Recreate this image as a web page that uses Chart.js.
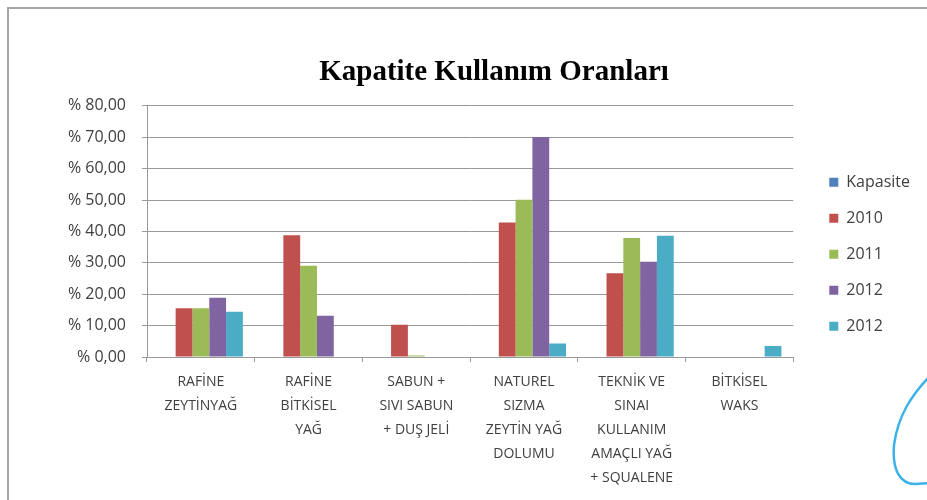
<!DOCTYPE html>
<html>
<head>
<meta charset="utf-8">
<script src="https://cdn.jsdelivr.net/npm/chart.js@4.4.0/dist/chart.umd.min.js"></script>
<style>
  html, body { margin: 0; padding: 0; background: #fff; overflow: hidden; }
  #frame { position: absolute; left: 7px; top: 7px; width: 1000px; height: 600px; border: 2px solid #a6a6a6; }
  #wrap { position: absolute; left: 0; top: 0; width: 988px; height: 500px; }
  #ink { position: absolute; left: 0; top: 0; }
</style>
</head>
<body>
<div id="frame"></div>
<div id="wrap"><canvas id="chart"></canvas></div>
<svg id="ink" width="927" height="500">
  <path d="M929 377 C912 395 898 415 894 445 C892 470 900 484 915 484 L929 483" fill="none" stroke="#3db2ea" stroke-width="2.5" stroke-linecap="round"/>
</svg>
<script>
const categories = [
  ['RAFİNE', 'ZEYTİNYAĞ'],
  ['RAFİNE', 'BİTKİSEL', 'YAĞ'],
  ['SABUN +', 'SIVI SABUN', '+ DUŞ JELİ'],
  ['NATUREL', 'SIZMA', 'ZEYTİN YAĞ', 'DOLUMU'],
  ['TEKNİK VE', 'SINAI', 'KULLANIM', 'AMAÇLI YAĞ', '+ SQUALENE'],
  ['BİTKİSEL', 'WAKS']
];
const seriesNames = ['Kapasite', '2010', '2011', '2012', '2012'];
const kapasite = [0, 0, 0, 0, 0, 0];
const y2010 = [15.5, 38.8, 10.3, 42.8, 26.7, 0];
const y2011 = [15.5, 29.1, 0.5, 50.1, 37.9, 0];
const y2012a = [18.9, 13.1, 0, 70.1, 30.3, 0];
const y2012b = [14.4, 0, 0, 4.3, 38.6, 3.5];
const colors = ['#4f81bd', '#c0504d', '#9bbb59', '#8064a2', '#4bacc6'];

const seriesData = [kapasite, y2010, y2011, y2012a, y2012b];
const datasets = seriesData.map((d, i) => ({
  label: seriesNames[i],
  data: d,
  yAxisID: 'y',
  backgroundColor: colors[i],
  borderWidth: 0
}));

const labelFont = "'Open Sans', sans-serif";
const gridColor = '#999999';

// centre the title over the whole chart object, not only the padded part
const wideTitle = {
  id: 'wideTitle',
  afterLayout(chart) {
    if (chart.titleBlock) {
      chart.titleBlock.left = 0;
      chart.titleBlock.right = chart.width;
    }
  }
};

new Chart(document.getElementById('chart'), {
  type: 'bar',
  data: { labels: categories, datasets: datasets },
  plugins: [wideTitle],
  options: {
    responsive: true,
    maintainAspectRatio: false,
    animation: false,
    categoryPercentage: 0.78,
    barPercentage: 1.0,
    layout: { padding: { left: 0, right: 68, top: 0, bottom: 0 } },
    plugins: {
      title: {
        display: true,
        text: 'Kapatite Kullanım Oranları',
        color: '#000',
        font: { family: "'Liberation Serif', serif", size: 29, weight: 'bold' },
        padding: { top: 55, bottom: 16 }
      },
      legend: {
        position: 'right',
        title: { display: true, text: ' ', font: { size: 7 }, padding: 0 },
        labels: {
          color: '#404040',
          font: { family: labelFont, size: 16 },
          boxWidth: 9,
          boxHeight: 9,
          padding: 20
        }
      },
      tooltip: { enabled: false }
    },
    scales: {
      x: {
        grid: { drawOnChartArea: false, offset: true, tickLength: 5, color: gridColor },
        border: { color: gridColor },
        ticks: {
          color: '#404040',
          font: { family: labelFont, size: 14, lineHeight: 1.72 },
          maxRotation: 0,
          autoSkip: false,
          padding: 8
        },
        afterFit: (s) => { s.height = 143; }
      },
      y: {
        min: 0,
        max: 80,
        grid: { color: gridColor, tickLength: 5 },
        border: { color: gridColor },
        ticks: {
          stepSize: 10,
          color: '#404040',
          padding: 16,
          font: { family: labelFont, size: 16 },
          callback: (v) => '% ' + v.toFixed(2).replace('.', ',')
        },
        afterFit: (s) => { s.width = 147; }
      },
      gap: {
        position: 'right',
        display: true,
        grid: { display: false },
        border: { display: false },
        ticks: { display: false },
        afterFit: (s) => { s.width = 16; }
      }
    }
  }
});
</script>
</body>
</html>
